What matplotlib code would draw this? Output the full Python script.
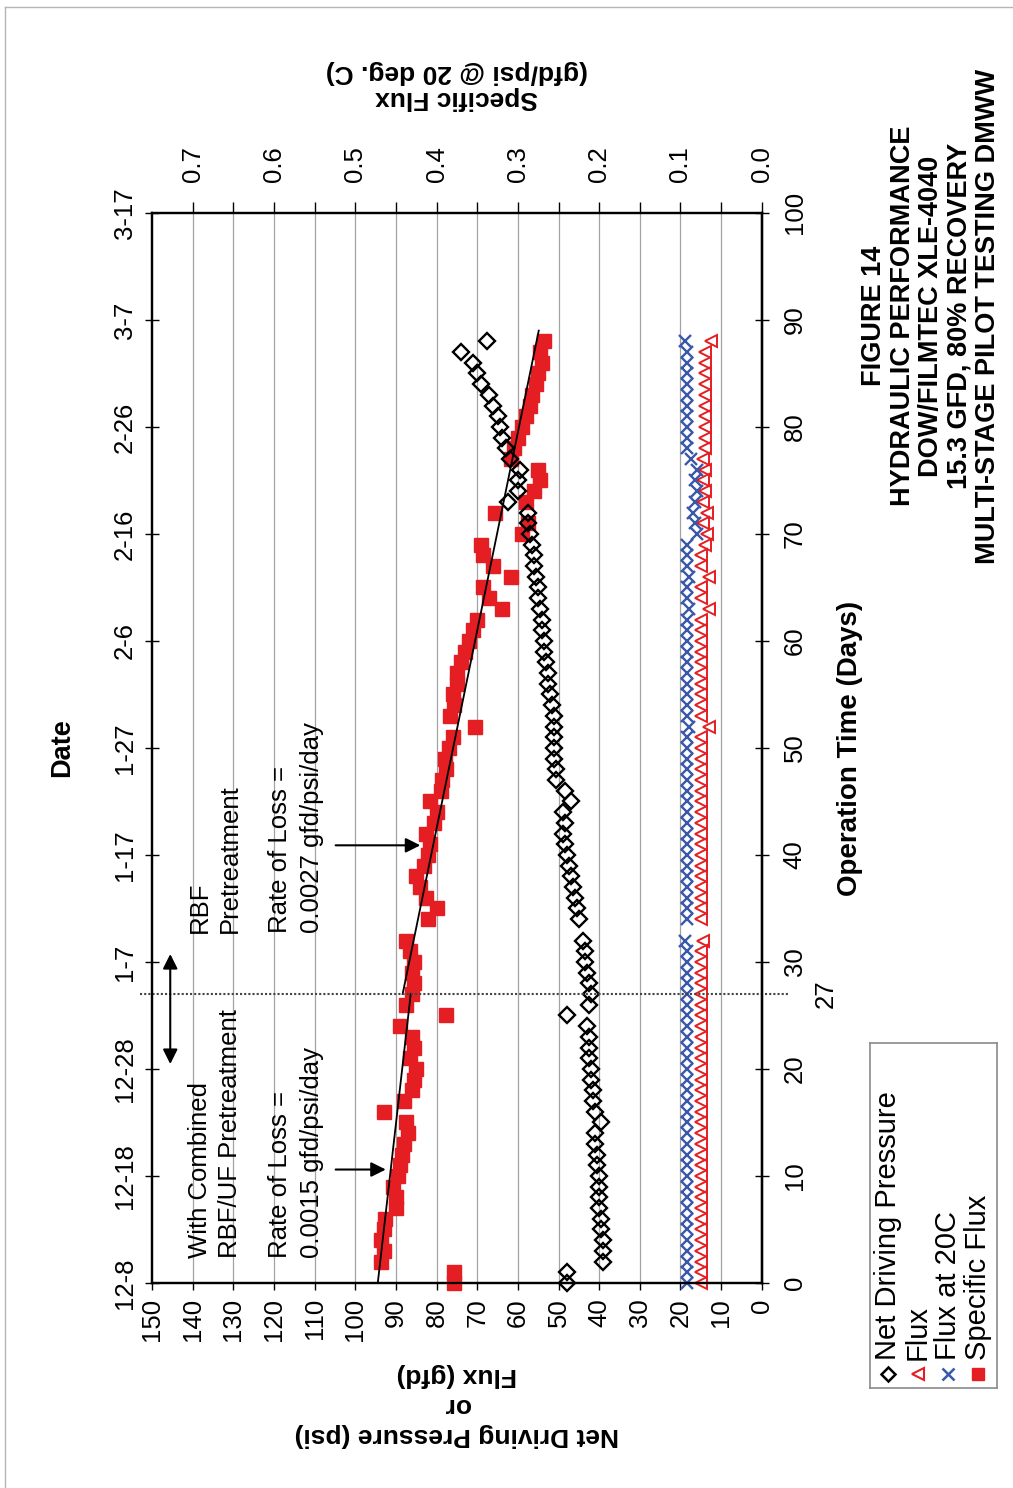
import numpy as np
import matplotlib.pyplot as plt
from matplotlib import font_manager
from matplotlib.lines import Line2D

plt.rcParams['font.family'] = ['Liberation Sans', 'DejaVu Sans']

# daily readings (no reading on day 33)
days = list(range(0, 33)) + list(range(34, 89))

ndp = [48, 48, 39, 39, 39, 39.5, 39.5, 40, 40, 40, 40, 40.5, 40.5, 41, 41, 39.5,
       41, 41.5, 41.5, 42, 42, 42.5, 42.5, 42.5, 43, 48, 42.5, 42, 42.5, 43, 43.5,
       43.5, 44,
       45, 45.5, 46, 46.5, 47, 47.5, 48, 48.5, 49, 48.5, 49, 47, 48.5, 50.5, 50.5,
       51, 51, 51, 51, 51, 51.5, 52, 52.5, 52.5, 53, 53.5, 53.5, 54, 54, 54.5, 55,
       55, 55.5, 56, 56, 56.5, 57, 57.5, 57.5, 62.5, 60, 60, 59.5, 62, 63, 64,
       64.5, 65, 66, 67, 69, 70, 71, 74, 67.5]

flux = [15, 15, 15, 15, 15, 15, 15, 15, 15, 15, 15, 15, 15, 15, 15, 15,
        15, 15, 15, 15, 15, 15, 15, 15, 15, 15, 15, 15, 15, 15, 15,
        15, 14.5,
        15, 15, 15, 15, 15, 15, 15, 15, 15, 15, 15, 15, 15, 15, 15,
        15, 15, 15, 13, 15, 15, 15, 15, 15, 15, 15, 15, 15, 15, 13, 15,
        15, 13, 15, 15, 14, 13.5, 14.5, 13.5, 14.5, 14, 14.5, 14, 14.5, 14, 14,
        14, 14, 14, 14, 14, 14, 14, 14, 12.5]

flux_20c = [18.5, 18.5, 18.5, 18.5, 18.5, 18.5, 18.5, 18.5, 18.5, 18.5, 18.5, 18.5,
            18.5, 18.5, 18.5, 18.5, 18.5, 18.5, 18.5, 18.5, 18.5, 18.5, 18.5, 18.5,
            18.5, 18.5, 18.5, 18.5, 18.5, 18.5, 18.5, 18.5, 19,
            18.5, 18.5, 18.5, 18.5, 18.5, 18.5, 18.5, 18.5, 18.5, 18.5, 18.5, 18.5,
            18.5, 18.5, 18.5, 18.5, 18.5, 18.5, 18, 18.5, 18.5, 18.5, 18.5, 18.5,
            18.5, 18.5, 18.5, 18.5, 18.5, 18, 18.5, 18.5, 18, 18.5, 18.5, 18.5,
            16, 16.5, 17, 16.5, 16, 16.5, 16, 17.5,
            18.5, 18.5, 18.5, 18.5, 18.5, 18.5, 18.5, 18.5, 18.5, 18.5, 19]

specific_flux = [0.378, 0.378, 0.468, 0.465, 0.468, 0.465, 0.463, 0.450, 0.450, 0.453,
                 0.448, 0.445, 0.443, 0.440, 0.435, 0.438, 0.464, 0.440, 0.430, 0.428,
                 0.425, 0.433, 0.428, 0.430, 0.445, 0.388, 0.438, 0.430, 0.428, 0.430,
                 0.428, 0.433, 0.438,
                 0.410, 0.400, 0.413, 0.420, 0.425, 0.415, 0.410, 0.408, 0.413, 0.403,
                 0.400, 0.408, 0.395, 0.393, 0.388, 0.390, 0.385, 0.380, 0.353, 0.383,
                 0.378, 0.380, 0.375, 0.375, 0.370, 0.365, 0.360, 0.355, 0.350, 0.319,
                 0.335, 0.343, 0.308, 0.330, 0.343, 0.345, 0.295, 0.288, 0.328, 0.290,
                 0.280, 0.273, 0.275, 0.308, 0.305, 0.300, 0.295, 0.290, 0.285, 0.283,
                 0.278, 0.275, 0.270, 0.273, 0.268]

# loss-rate trend lines (gfd/psi/day) for each pretreatment period
period_rbf_uf = (0, 27)
rate_rbf_uf = 0.0015
mid_rbf_uf = 0.452
period_rbf = (27, 89)
rate_rbf = 0.0027
mid_rbf = 0.358
change_day = 27

date_labels = ['12-8', '12-18', '12-28', '1-7', '1-17', '1-27', '2-6', '2-16',
               '2-26', '3-7', '3-17']
day_ticks = list(range(0, 101, 10))
psi_ticks = list(range(0, 151, 10))
sf_ticks = [0.0, 0.1, 0.2, 0.3, 0.4, 0.5, 0.6, 0.7]
sf_minor = [0.05, 0.15, 0.25, 0.35, 0.45, 0.55, 0.65]

names = {f.name for f in font_manager.fontManager.ttflist}
title_font = 'Liberation Sans Narrow' if 'Liberation Sans Narrow' in names else 'Liberation Sans'

RED = '#e41e22'
BLUE = '#3a58aa'
FS = 18.5

fig = plt.figure(figsize=(10.13, 14.88), dpi=100)
ax = fig.add_axes([0.150, 0.1378, 0.602, 0.7191])
ax_sf = ax.twiny()
ax.set_zorder(2)
ax_sf.set_zorder(1)
ax.patch.set_visible(False)

ax.set_xlim(150, 0)
ax.set_ylim(0, 100)
ax_sf.set_xlim(0.75, 0)

# specific flux axis (top) carries the grid
ax_sf.set_xticks(sf_ticks)
ax_sf.set_xticks(sf_minor, minor=True)
ax_sf.set_xticklabels([f'{v:.1f}' for v in sf_ticks])
ax_sf.grid(True, which='both', axis='x', color='#a3a3a3', lw=0.9)
ax_sf.set_axisbelow(True)
ax_sf.tick_params(axis='x', which='both', direction='out', length=8, width=1,
                  labelsize=FS, labelrotation=90, pad=14)

ax.set_xticks(psi_ticks)
ax.set_yticks(day_ticks)
ax.set_yticklabels(date_labels)
ax.tick_params(axis='x', direction='out', length=5, width=1, labelsize=FS,
               labelrotation=90, pad=6)
ax.tick_params(axis='y', direction='inout', length=10, width=1, labelsize=FS,
               labelrotation=90, pad=6)
for lbl in ax.get_yticklabels():
    lbl.set_va('center')

sec = ax.secondary_yaxis('right')
sec.set_yticks(day_ticks)
sec.tick_params(direction='inout', length=10, width=1, labelsize=FS,
                labelrotation=90, pad=10)
for lbl in sec.get_yticklabels():
    lbl.set_va('center')

for a in (ax, ax_sf):
    for s in a.spines.values():
        s.set_linewidth(1.6)
sec.spines['right'].set_linewidth(1.6)

# data series
ax_sf.plot(specific_flux, days, ls='none', marker='s', ms=9.5, mfc=RED, mec=RED,
           clip_on=False, zorder=3)
d1 = np.array(period_rbf_uf)
ax_sf.plot(mid_rbf_uf - rate_rbf_uf * (d1 - d1.mean()), d1, color='black', lw=1.3, zorder=4)
d2 = np.array(period_rbf)
ax_sf.plot(mid_rbf - rate_rbf * (d2 - d2.mean()), d2, color='black', lw=1.3, zorder=4)

ax.plot(ndp, days, ls='none', marker='D', ms=8.3, mfc='none', mec='black', mew=1.7,
        clip_on=False)
ax.plot(flux, days, ls='none', marker='<', ms=8.5, mfc='none', mec=RED, mew=1.4,
        clip_on=False)
ax.plot(flux_20c, days, ls='none', marker='x', ms=8.5, mec=BLUE, mew=1.7, clip_on=False)

# pretreatment change
ax.axhline(change_day, xmin=-0.02, xmax=1.045, clip_on=False, color='#444444',
           lw=1.5, ls=(0, (1, 1)))
ax.text(1.105, change_day, '27', transform=ax.get_yaxis_transform(), rotation=90,
        ha='center', va='center', fontsize=FS)
ax.annotate('', xy=(145.5, 31), xytext=(145.5, 20.2),
            arrowprops=dict(arrowstyle='<|-|>', color='black', lw=1.5, mutation_scale=22))
ax.annotate('', xy=(91.8, 10.6), xytext=(105.5, 10.6),
            arrowprops=dict(arrowstyle='-|>', color='black', lw=1.5, mutation_scale=22))
ax.annotate('', xy=(83.3, 40.9), xytext=(105.5, 40.9),
            arrowprops=dict(arrowstyle='-|>', color='black', lw=1.5, mutation_scale=22))

note = dict(rotation=90, rotation_mode='anchor', ha='left', va='center', fontsize=FS)
for x, txt in [(138.2, 'With Combined'), (130.8, 'RBF/UF Pretreatment'),
               (118.5, 'Rate of Loss ='), (110.7, '0.0015 gfd/psi/day')]:
    ax.text(x, 2.3, txt, **note)
for x, txt in [(138.2, 'RBF'), (130.8, 'Pretreatment'),
               (118.5, 'Rate of Loss ='), (110.7, '0.0027 gfd/psi/day')]:
    ax.text(x, 32.7, txt, **note)

# axis titles
fig.text(0.451, 0.0558, 'Net Driving Pressure (psi)\nor\nFlux (gfd)', rotation=180,
         ha='center', va='center', fontsize=19, fontweight='bold', linespacing=1.3)
fig.text(0.451, 0.9429, 'Specific Flux\n(gfd/psi @ 20 deg. C)', rotation=180,
         ha='center', va='center', fontsize=19, fontweight='bold', linespacing=1.15)
fig.text(0.0612, 0.4973, 'Date', rotation=90, ha='center', va='center',
         fontsize=19.5, fontweight='bold')
fig.text(0.839, 0.4973, 'Operation Time (Days)', rotation=90, ha='center', va='center',
         fontsize=20, fontweight='bold')
fig.text(0.919, 0.7876,
         'FIGURE 14\nHYDRAULIC PERFORMANCE\nDOW/FILMTEC XLE-4040\n'
         '15.3 GFD, 80% RECOVERY\nMULTI-STAGE PILOT TESTING DMWW',
         rotation=90, ha='center', va='center', fontsize=19.5, fontweight='bold',
         family=title_font, linespacing=1.12, multialignment='center')

# legend box
lax = fig.add_axes([0.8588, 0.0672, 0.1254, 0.2319])
lax.set_xlim(0, 1)
lax.set_ylim(0, 1)
lax.set_xticks([])
lax.set_yticks([])
for s in lax.spines.values():
    s.set_color('#8a8a8a')
    s.set_linewidth(1.2)
entries = [('Net Driving Pressure', dict(marker='D', ms=7, mfc='none', mec='black', mew=1.8)),
           ('Flux', dict(marker='<', ms=8.5, mfc='none', mec=RED, mew=1.5)),
           ('Flux at 20C', dict(marker='x', ms=8.5, mec=BLUE, mew=1.8)),
           ('Specific Flux', dict(marker='s', ms=9, mfc=RED, mec=RED))]
for i, (label, style) in enumerate(entries):
    x = 0.142 + 0.236 * i
    lax.plot([x], [0.04], ls='none', **style)
    lax.text(x, 0.08, label, rotation=90, rotation_mode='anchor', ha='left',
             va='center', fontsize=21)

# scanned page edge
fig.add_artist(Line2D([0.005, 0.005], [0.0, 0.995], transform=fig.transFigure,
                      color='#b5b5b5', lw=1))
fig.add_artist(Line2D([0.005, 1.0], [0.995, 0.995], transform=fig.transFigure,
                      color='#b5b5b5', lw=1))

fig.savefig('out.png', dpi=100)
